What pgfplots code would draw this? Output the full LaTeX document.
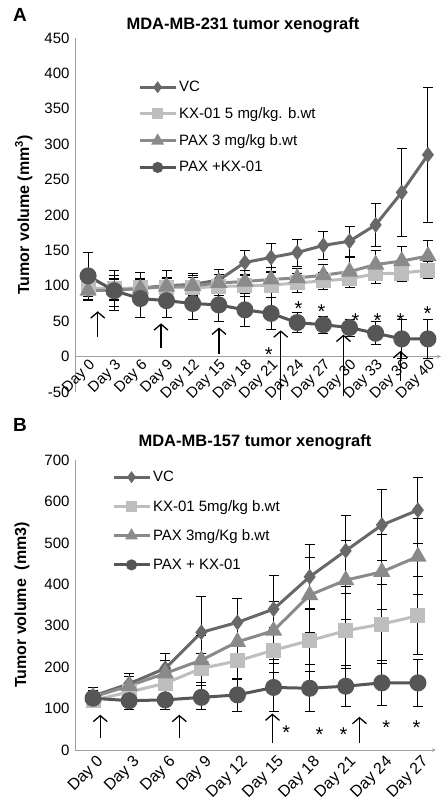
\documentclass[border=0pt]{standalone}
\usepackage{fontspec}
\setmainfont{Liberation Sans}
\usepackage{pgfplots}
\pgfplotsset{compat=1.18}
\usepackage{pgfplotstable}
\usetikzlibrary{arrows.meta}

\definecolor{cVC}{HTML}{686868}
\definecolor{cKX}{HTML}{BEBEBE}
\definecolor{cPAX}{HTML}{8A8A8A}
\definecolor{cCB}{HTML}{565656}
\definecolor{axgray}{HTML}{A0A0A0}

\pgfplotstableread{
x vc vce kx kxe pax paxe cb cbe
0 95 15 97 12 93 12 114 33
1 93 22 96 15 94 15 93 28
2 97 22 97 12 96 15 82 27
3 100 22 98 12 99 13 79 24
4 102 15 97 15 100 15 75 22
5 108 15 99 12 104 12 73 23
6 133 17 100 15 106 15 66 23
7 140 20 101 18 109 17 61 23
8 147 19 104 14 111 14 48 14
9 157 20 107 12 115 15 45 12
10 163 21 110 13 120 20 41 12
11 186 30 117 13 130 20 33 16
12 232 62 118 12 135 20 25 27
13 285 95 122 12 142 22 25 27
}\dataA

\pgfplotstableread{
x vc vce kx kxe pax paxe cb cbe
0 130 20 120 15 128 15 125 15
1 160 25 140 20 155 22 119 20
2 197 35 161 25 185 30 121 22
3 284 86 197 35 217 60 127 30
4 308 57 215 45 261 50 133 40
5 340 82 241 55 288 70 151 57
6 418 77 264 75 374 90 149 57
7 481 86 288 90 410 95 154 50
8 543 85 304 95 430 90 162 55
9 579 80 324 94 467 91 162 56
}\dataB

\tikzset{
  arr/.style={line width=1.3pt, -{Straight Barb[length=6pt,width=14pt,line width=1.3pt]}},
  star/.style={font=\fontsize{20}{20}\selectfont, inner sep=0pt, yshift=-5pt},
}
\pgfplotsset{
  errs/.style={error bars/.cd, y dir=both, y explicit,
     error bar style={black, line width=0.9pt, solid},
     error mark options={black, rotate=90, mark size=5pt, line width=0.9pt}},
  common/.style={
    scale only axis,
    axis y line=left,
    axis line style={draw=axgray, line width=0.8pt, -},
    major tick length=0pt,
    tick label style={font=\fontsize{15}{15}\selectfont},
    /pgf/number format/assume math mode=true,
    yticklabel style={xshift=-2pt},
    xtick=data,
    xticklabel style={rotate=45, anchor=north east, inner sep=1pt, font=\fontsize{15}{15}\selectfont},
    ylabel style={font=\fontsize{16}{16}\bfseries},
    legend style={draw=none, fill=none, font=\fontsize{15}{15}\selectfont, row sep=13pt, cells={anchor=west}, inner sep=0pt},
    legend image code/.code={\draw[mark repeat=2, mark phase=2, #1] plot coordinates {(0pt,0pt) (18pt,0pt) (36pt,0pt)};},
    clip=false,
  },
}

\begin{document}
\begin{tikzpicture}
\useasboundingbox (0,0) rectangle (443pt,805pt);

% ---------------- Panel A ----------------
\node[font=\fontsize{19}{19}\bfseries] at (20pt,790pt) {A};
\node[font=\fontsize{16.5}{17}\bfseries] at (243pt,780pt) {MDA-MB-231 tumor xenograft};
\begin{axis}[common,
  at={(75pt,413pt)}, anchor=south west,
  width=366pt, height=354pt,
  axis x line=middle,
  xmin=-0.5, xmax=13.5, ymin=-50, ymax=450,
  ytick={-50,0,50,...,450},
  xticklabels={Day 0,Day 3,Day 6,Day 9,Day 12,Day 15,Day 18,Day 21,Day 24,Day 27,Day 30,Day 33,Day 36,Day 40},
  ylabel={Tumor volume (mm\textsuperscript{3})},
  ylabel style={at={(axis description cs:-0.14,0.5)}, anchor=center},
  legend style={at={(axis description cs:0.172,0.884)}, anchor=north west, row sep=10.5pt},
]
\addplot[color=cVC, line width=3pt, mark=diamond*, mark size=5.5pt, mark options={fill=cVC, draw=cVC}, legend image post style={mark size=3.5pt}, errs] table[x=x, y=vc, y error=vce] {\dataA};
\addlegendentry{VC}
\addplot[color=cKX, line width=3pt, mark=square*, mark size=6pt, mark options={fill=cKX, draw=cKX}, legend image post style={mark size=4pt}, errs] table[x=x, y=kx, y error=kxe] {\dataA};
\addlegendentry{KX-01 5 mg/kg. b.wt}
\addplot[color=cPAX, line width=3pt, mark=triangle*, mark size=7pt, mark options={fill=cPAX, draw=cPAX}, legend image post style={mark size=4.5pt}, errs] table[x=x, y=pax, y error=paxe] {\dataA};
\addlegendentry{PAX 3 mg/kg b.wt}
\addplot[color=cCB, line width=3pt, mark=*, mark size=7pt, mark options={fill=cCB, draw=cCB}, legend image post style={mark size=4pt}, errs] table[x=x, y=cb, y error=cbe] {\dataA};
\addlegendentry{PAX +KX-01}
% arrows
\draw[arr] (axis cs:0.37,28) -- (axis cs:0.37,64);
\draw[arr] (axis cs:2.79,12) -- (axis cs:2.79,47);
\draw[arr] (axis cs:5.01,4) -- (axis cs:5.01,41);
\draw[arr] (axis cs:7.37,-61) -- (axis cs:7.37,37);
\draw[arr] (axis cs:9.77,-55) -- (axis cs:9.77,31);
\draw[arr] (axis cs:11.95,-35) -- (axis cs:11.95,8);
% stars
\node[star] at (axis cs:6.91,10) {*};
\node[star] at (axis cs:8.05,75) {*};
\node[star] at (axis cs:8.93,71) {*};
\node[star] at (axis cs:10.23,58) {*};
\node[star] at (axis cs:11.07,58) {*};
\node[star] at (axis cs:11.95,58) {*};
\node[star] at (axis cs:12.98,68) {*};
\end{axis}

% ---------------- Panel B ----------------
\node[font=\fontsize{19}{19}\bfseries] at (20pt,380pt) {B};
\node[font=\fontsize{16.5}{17}\bfseries] at (255pt,363pt) {MDA-MB-157 tumor xenograft};
\begin{axis}[common,
  at={(75pt,55pt)}, anchor=south west,
  width=361pt, height=290pt,
  axis x line=bottom,
  xmin=-0.5, xmax=9.5, ymin=0, ymax=700,
  ytick={0,100,...,700},
  xticklabels={Day 0,Day 3,Day 6,Day 9,Day 12,Day 15,Day 18,Day 21,Day 24,Day 27},
  xticklabel style={font=\fontsize{16}{16}\selectfont, yshift=-4pt},
  ylabel={Tumor volume\ \ (mm3)},
  ylabel style={at={(axis description cs:-0.147,0.5)}, anchor=center},
  legend style={at={(axis description cs:0.102,0.969)}, anchor=north west},
]
\addplot[color=cVC, line width=3pt, mark=diamond*, mark size=5.5pt, mark options={fill=cVC, draw=cVC}, legend image post style={mark size=3.5pt}, errs] table[x=x, y=vc, y error=vce] {\dataB};
\addlegendentry{VC}
\addplot[color=cKX, line width=3pt, mark=square*, mark size=6pt, mark options={fill=cKX, draw=cKX}, legend image post style={mark size=4pt}, errs] table[x=x, y=kx, y error=kxe] {\dataB};
\addlegendentry{KX-01 5mg/kg b.wt}
\addplot[color=cPAX, line width=3pt, mark=triangle*, mark size=7pt, mark options={fill=cPAX, draw=cPAX}, legend image post style={mark size=4.5pt}, errs] table[x=x, y=pax, y error=paxe] {\dataB};
\addlegendentry{PAX 3mg/Kg b.wt}
\addplot[color=cCB, line width=3pt, mark=*, mark size=7pt, mark options={fill=cCB, draw=cCB}, legend image post style={mark size=4pt}, errs] table[x=x, y=cb, y error=cbe] {\dataB};
\addlegendentry{PAX + KX-01}
\draw[arr] (axis cs:0.2,29) -- (axis cs:0.2,85);
\draw[arr] (axis cs:2.39,29) -- (axis cs:2.39,85);
\draw[arr] (axis cs:4.97,18) -- (axis cs:4.97,88);
\draw[arr] (axis cs:7.38,18) -- (axis cs:7.38,80);
\node[star] at (axis cs:5.35,53) {*};
\node[star] at (axis cs:6.27,50) {*};
\node[star] at (axis cs:6.94,50) {*};
\node[star] at (axis cs:8.12,65) {*};
\node[star] at (axis cs:8.96,65) {*};
\end{axis}
\end{tikzpicture}
\end{document}
